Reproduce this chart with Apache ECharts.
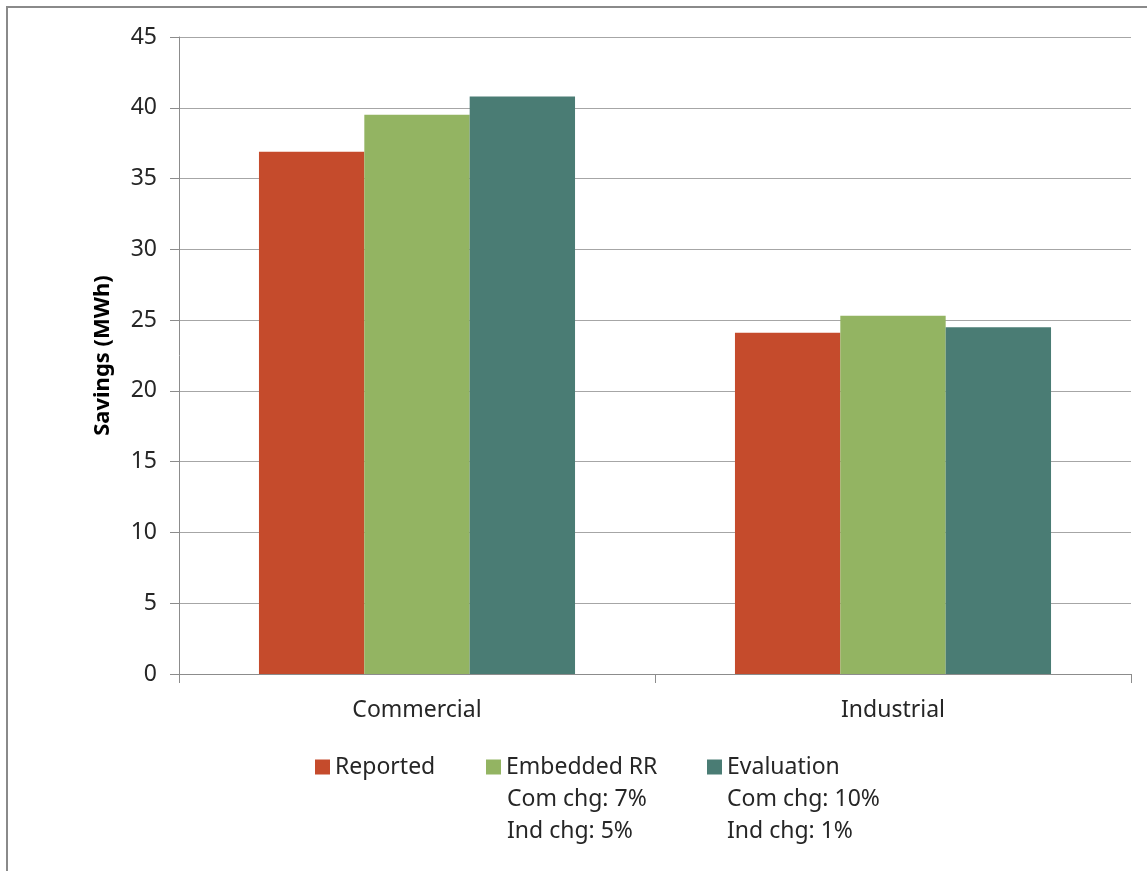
<!DOCTYPE html>
<html>
<head>
<meta charset="utf-8">
<title>Savings</title>
<script src="https://cdn.jsdelivr.net/npm/echarts@6/dist/echarts.min.js"></script>
<style>
  html, body { margin: 0; padding: 0; background: #fff; }
  #chart { width: 1147px; height: 871px; }
</style>
</head>
<body>
<div id="chart"></div>
<script>
// categories and series
var categories = ['Commercial', 'Industrial'];
var seriesNames = ['Reported', 'Embedded RR', 'Evaluation'];
var reported = [36.9, 24.1];
var embeddedRR = [39.5, 25.3];
var evaluation = [40.8, 24.5];
var colors = ['#C54B2C', '#93B462', '#4A7C74'];
// extra legend lines under Embedded RR and Evaluation
var embeddedNotes = ['Com chg: 7%', 'Ind chg: 5%'];
var evaluationNotes = ['Com chg: 10%', 'Ind chg: 1%'];

var FONT = 'Noto Sans';
var FS = 23;
var TXT = '#262626';
var dom = document.getElementById('chart');
var myChart = echarts.init(dom, null, { renderer: 'canvas' });

var values = [reported, embeddedRR, evaluation];
var legendLeft = [315, 486, 707];

var option = {
    animation: false,
    textStyle: { fontFamily: FONT },
    grid: { left: 179, right: 16, top: 37, bottom: 197 },
    legend: seriesNames.map(function (name, i) {
        return {
            data: [name],
            left: legendLeft[i],
            top: 753,
            padding: 0,
            itemWidth: 15,
            itemHeight: 15,
            itemGap: 6,
            icon: 'rect',
            textStyle: { fontFamily: FONT, fontSize: FS, lineHeight: 28, color: TXT }
        };
    }),
    graphic: [
        {
            type: 'rect',
            shape: { x: 7, y: 7, width: 1160, height: 880 },
            style: { fill: 'none', stroke: '#8a8a8a', lineWidth: 2 },
            silent: true
        }
    ].concat(embeddedNotes.map(function (t, i) {
        return { type: 'text', left: 507, top: 785 + i * 32,
            style: { text: t, fontFamily: FONT, fontSize: FS, lineHeight: 28, fill: TXT } };
    })).concat(evaluationNotes.map(function (t, i) {
        return { type: 'text', left: 727, top: 785 + i * 32,
            style: { text: t, fontFamily: FONT, fontSize: FS, lineHeight: 28, fill: TXT } };
    })),
    xAxis: {
        type: 'category',
        data: categories,
        axisLine: { lineStyle: { color: '#8c8c8c', width: 1 } },
        axisTick: { show: true, length: 9, lineStyle: { color: '#8c8c8c' } },
        axisLabel: { fontSize: FS, color: TXT, margin: 25 }
    },
    yAxis: {
        type: 'value',
        min: 0,
        max: 45,
        interval: 5,
        name: 'Savings (MWh)',
        nameLocation: 'middle',
        nameGap: 65,
        nameTextStyle: { fontSize: 22, fontWeight: 'bold', color: '#000' },
        axisLine: { show: true, lineStyle: { color: '#8c8c8c', width: 1 } },
        axisTick: { show: true, length: 9, lineStyle: { color: '#8c8c8c' } },
        axisLabel: { fontSize: FS, color: TXT, margin: 22 },
        splitLine: { lineStyle: { color: '#a6a6a6', width: 1 } }
    },
    series: seriesNames.map(function (name, i) {
        return {
            name: name,
            type: 'bar',
            data: values[i],
            barGap: '0%',
            barCategoryGap: '33.6%',
            itemStyle: { color: colors[i] }
        };
    })
};

if (option && typeof option === 'object') {
    myChart.setOption(option);
}
window.addEventListener('resize', myChart.resize);
</script>
</body>
</html>
